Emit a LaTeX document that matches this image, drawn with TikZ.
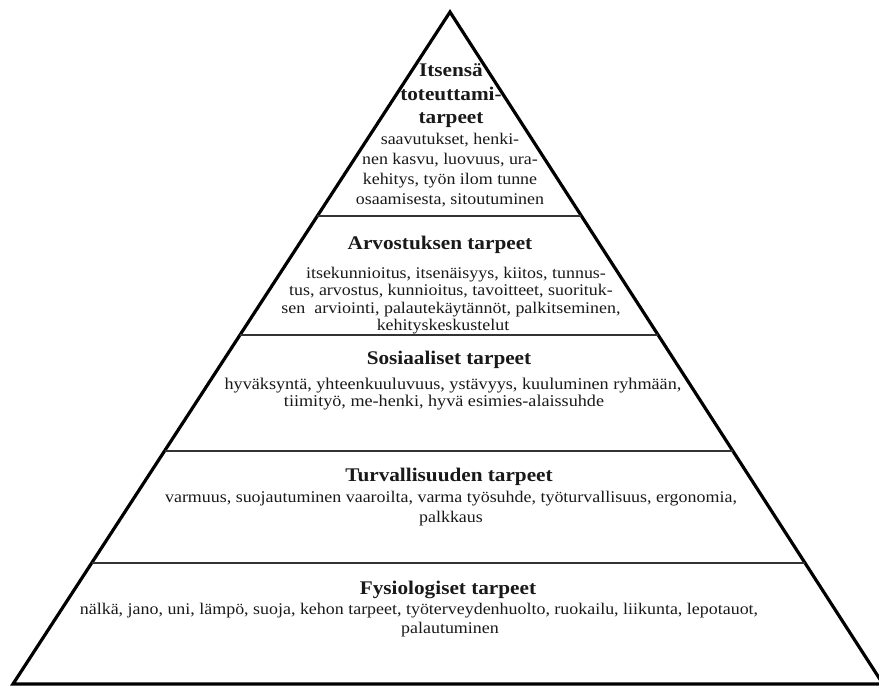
\documentclass[tikz,border=0pt]{standalone}
\usepackage{fontspec}
\setmainfont{Liberation Serif}[FakeStretch=1.1]
\usetikzlibrary{calc,positioning}

\newcommand{\bodyfont}[2]{\fontsize{#1}{#2}\selectfont}
\tikzset{
  side/.style={line width=3.2pt, line join=miter},
  divider/.style={line width=1.3pt, draw=black!80},
  lvltitle/.style={font=\fontsize{19.3}{23}\selectfont\bfseries, align=center,
    anchor=base, inner sep=0pt, text=black!90},
  lvlbody/.style={align=center, anchor=base, inner sep=0pt, text=black!90}
}

\begin{document}
\begin{tikzpicture}[x=1pt,y=-1pt]
  \useasboundingbox (0,0) rectangle (879,686);
  \coordinate (apex) at (450,12);
  \coordinate (bl) at (13,684);
  \coordinate (br) at (883,684);
  \draw[side] (apex) -- (bl) -- (br) -- cycle;
  \foreach \f in {0.3036,0.4807,0.6533,0.8199}
    \draw[divider] ($(apex)!\f!(bl)$) -- ($(apex)!\f!(br)$);

  % base anchor = baseline of the last line
  % itsensa toteuttaminen
  \node[lvltitle, font=\fontsize{19.3}{23.5}\selectfont\bfseries] (t5) at (451,123.5) {Itsensä\\toteuttami-\\tarpeet};
  \node[lvlbody, font=\bodyfont{16.3}{20}] (b5) at (450,204) {saavutukset, henki-\\nen kasvu, luovuus, ura-\\kehitys, työn ilom tunne\\osaamisesta, sitoutuminen};
  % arvostus
  \node[lvltitle] (t4) at (440,249) {Arvostuksen tarpeet};
  \node[lvlbody, font=\bodyfont{16.3}{17.5}] (b4) at (451,330.5) {\hspace*{10pt}itsekunnioitus, itsenäisyys, kiitos, tunnus-\\tus, arvostus, kunnioitus, tavoitteet, suorituk-\\sen~ arviointi, palautekäytännöt, palkitseminen,\\kehityskeskustelut\hspace*{16pt}};
  % sosiaaliset
  \node[lvltitle] (t3) at (449,364.5) {Sosiaaliset tarpeet};
  \node[lvlbody, font=\bodyfont{16.5}{17}] (b3) at (444,406) {\hspace*{18pt}hyväksyntä, yhteenkuuluvuus, ystävyys, kuuluminen ryhmään,\\tiimityö, me-henki, hyvä esimies-alaissuhde};
  % turvallisuus
  \node[lvltitle] (t2) at (449,481.5) {Turvallisuuden tarpeet};
  \node[lvlbody, font=\bodyfont{16.3}{20}] (b2) at (451,522) {varmuus, suojautuminen vaaroilta, varma työsuhde, työturvallisuus, ergonomia,\\palkkaus};
  % fysiologiset
  \node[lvltitle] (t1) at (448,594.5) {Fysiologiset tarpeet};
  \node[lvlbody, font=\bodyfont{16.3}{19}] (b1) at (450,633) {nälkä, jano, uni, lämpö, suoja, kehon tarpeet, työterveydenhuolto, ruokailu, liikunta, lepotauot,\hspace*{62pt}\\palautuminen};
\end{tikzpicture}
\end{document}
